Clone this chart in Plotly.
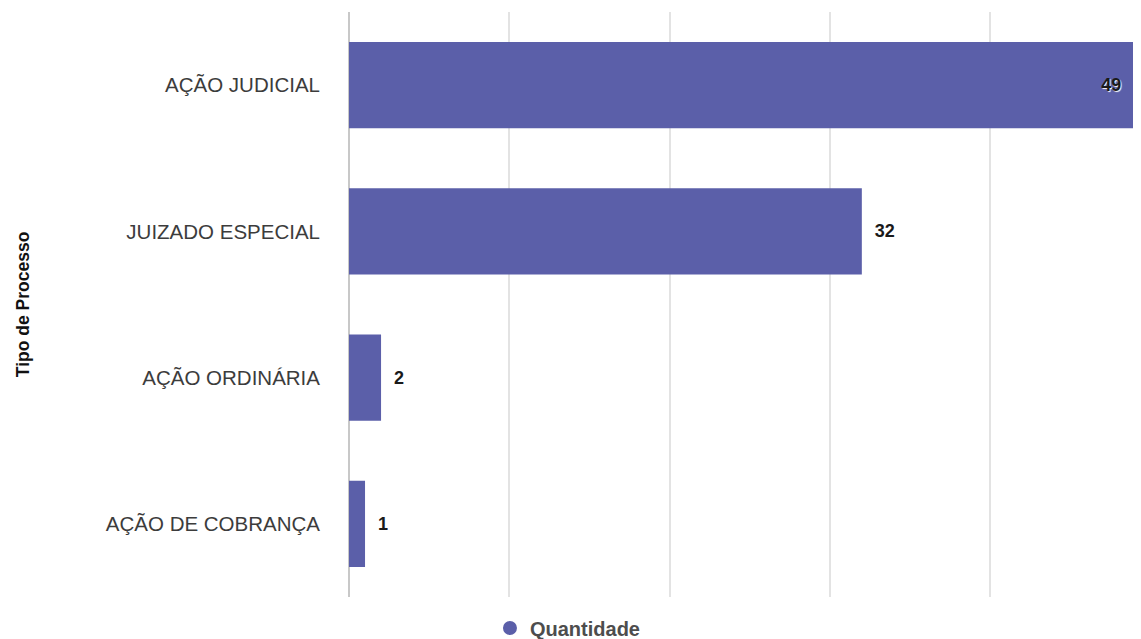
import plotly.graph_objects as go

# data
categorias = ["AÇÃO JUDICIAL", "JUIZADO ESPECIAL", "AÇÃO ORDINÁRIA", "AÇÃO DE COBRANÇA"]
quantidade = [49, 32, 2, 1]

BAR_COLOR = "#5b5fa9"
NBSP = "\u00a0"

# biggest bar keeps its label inside, the rest go outside
posicoes = ["inside" if v == max(quantidade) else "outside" for v in quantidade]
rotulos = [f"{v}{NBSP * 2}" if p == "inside" else f"{NBSP * 2}{v}"
           for v, p in zip(quantidade, posicoes)]

fig = go.Figure()

fig.add_trace(go.Bar(
    x=quantidade,
    y=categorias,
    orientation="h",
    marker=dict(color=BAR_COLOR, line=dict(width=0)),
    text=rotulos,
    textposition=posicoes,
    insidetextanchor="end",
    textfont=dict(family="Liberation Sans, Arial, sans-serif", size=18,
                  color="#1a1a1a", weight="bold", shadow="1px 1px 1px white"),
    cliponaxis=False,
    showlegend=False,
))

# legend entry with a round marker
fig.add_trace(go.Scatter(
    x=[None], y=[None],
    mode="markers",
    marker=dict(color=BAR_COLOR, size=16, symbol="circle",
                line=dict(color=BAR_COLOR, width=2)),
    name="Quantidade",
))

# the page body has an 8px margin: the figure is sized so it fits the window
fig.update_layout(
    width=1133,
    height=631,
    margin=dict(l=341, r=0, t=4, b=42, autoexpand=False),
    plot_bgcolor="#ffffff",
    paper_bgcolor="#ffffff",
    font=dict(family="Liberation Sans, Arial, sans-serif", color="#3c3c3c"),
    bargap=0.41,
    showlegend=True,
    legend=dict(
        orientation="h",
        x=0.178, xanchor="left",
        y=-0.053, yanchor="middle",
        font=dict(size=20, color="#4d4d4d", weight="bold"),
        itemsizing="constant",
    ),
    xaxis=dict(
        range=[0, 49.42],
        dtick=10,
        showticklabels=False,
        showgrid=True,
        gridcolor="#e3e3e3",
        gridwidth=1.5,
        zeroline=True,
        zerolinecolor="#c8c8c8",
        zerolinewidth=2,
        fixedrange=True,
    ),
    yaxis=dict(
        categoryorder="array",
        categoryarray=categorias[::-1],
        ticks="",
        ticklabelstandoff=28,
        tickfont=dict(size=20.5, color="#3c3c3c"),
        showgrid=False,
        automargin=False,
    ),
    annotations=[dict(
        text="Tipo de Processo",
        textangle=-90,
        xref="paper", yref="paper",
        x=-0.412, y=0.5,
        xanchor="center", yanchor="middle",
        showarrow=False,
        font=dict(size=17.5, color="#111111", weight="bold"),
    )],
)

fig.write_html("out.html")
